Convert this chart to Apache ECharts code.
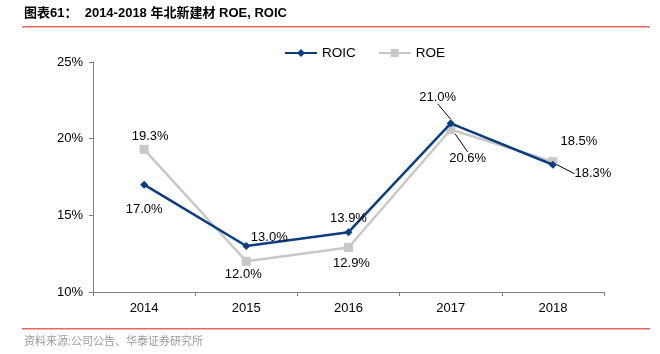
<!DOCTYPE html>
<html><head><meta charset="utf-8">
<script src="https://cdn.jsdelivr.net/npm/echarts@6/dist/echarts.min.js"></script>
<style>html,body{margin:0;padding:0;background:#fff}#c{width:660px;height:354px}</style>
</head><body><div id="c"></div>
<script>
const categories = ['2014','2015','2016','2017','2018'];
const roic = [17.0, 13.0, 13.9, 21.0, 18.3];
const roe = [19.3, 12.0, 12.9, 20.6, 18.5];
const yTicks = [10, 15, 20, 25];
const titleText = '图表61：  2014-2018 年北新建材 ROE, ROIC';
const sourceText = '资料来源:公司公告、华泰证券研究所';

// label placement per point: [dx, dy, leader]
const roicLab = [[0, 25, false],[23, -9, false],[0, -14, false],[-13, -26, true],[40, 9, true]];
const roeLab  = [[6, -13, false],[-3, 13, false],[3, 16, false],[17, 29, true],[26, -20, false]];

const chart = echarts.init(document.getElementById('c'));
const font = 'Liberation Sans, Arial, sans-serif';
function mk(vals, lab){
  return vals.map((v,i)=>({value:v, labelLine:{show:lab[i][2]}}));
}
function layoutFn(lab){
  return function(p){
    const l = lab[p.dataIndex];
    return {x: p.rect.x + p.rect.width/2 + l[0], y: p.rect.y + p.rect.height/2 + l[1], align:'center', verticalAlign:'middle'};
  };
}
chart.setOption({
  animation:false,
  textStyle:{fontFamily:font},
  grid:{left:93,right:56,top:62,bottom:62},
  legend:{
    top:41,left:279,itemGap:22,itemWidth:32,itemHeight:10,
    textStyle:{fontSize:13.5,color:'#000',fontFamily:font},
    data:['ROIC','ROE']
  },
  xAxis:{
    type:'category',data:categories,boundaryGap:true,
    axisLine:{lineStyle:{color:'#808080',width:1}},
    axisTick:{show:true,alignWithLabel:false,length:4,lineStyle:{color:'#808080'}},
    axisLabel:{color:'#000',fontSize:13,margin:10,fontFamily:font}
  },
  yAxis:{
    type:'value',min:10,max:25,interval:5,
    axisLine:{show:true,lineStyle:{color:'#808080'}},
    axisTick:{show:true,length:4,lineStyle:{color:'#808080'}},
    splitLine:{show:false},
    axisLabel:{color:'#000',fontSize:13,margin:10,fontFamily:font,formatter:v=>v+'%'}
  },
  graphic:[
    {type:'text',left:24,top:7,style:{text:titleText,font:'bold 13px "Liberation Sans", "Noto Sans CJK SC", sans-serif',fill:'#000'}},
    {type:'rect',shape:{x:22,y:26,width:628,height:1.5},style:{fill:'#E8695A'}},
    {type:'rect',shape:{x:22,y:328,width:628,height:1.5},style:{fill:'#E8695A'}},
    {type:'text',left:24,top:335,style:{text:sourceText,font:'11px "Noto Sans CJK SC", sans-serif',fill:'#9a9a9a'}}
  ],
  series:[
    {name:'ROIC',type:'line',data:mk(roic,roicLab),symbol:'diamond',symbolSize:8,
     itemStyle:{color:'#0C3D82'},lineStyle:{color:'#0C3D82',width:2.5},z:3,
     label:{show:true,position:'inside',color:'#000',fontSize:13,fontFamily:font,formatter:p=>p.value.toFixed(1)+'%'},
     labelLine:{lineStyle:{color:'#000',width:1}},
     labelLayout:layoutFn(roicLab)},
    {name:'ROE',type:'line',data:mk(roe,roeLab),symbol:'rect',symbolSize:9,
     itemStyle:{color:'#C8C8C8'},lineStyle:{color:'#C8C8C8',width:2.5},z:2,
     label:{show:true,position:'inside',color:'#000',fontSize:13,fontFamily:font,formatter:p=>p.value.toFixed(1)+'%'},
     labelLine:{lineStyle:{color:'#000',width:1}},
     labelLayout:layoutFn(roeLab)}
  ]
});
</script></body></html>
